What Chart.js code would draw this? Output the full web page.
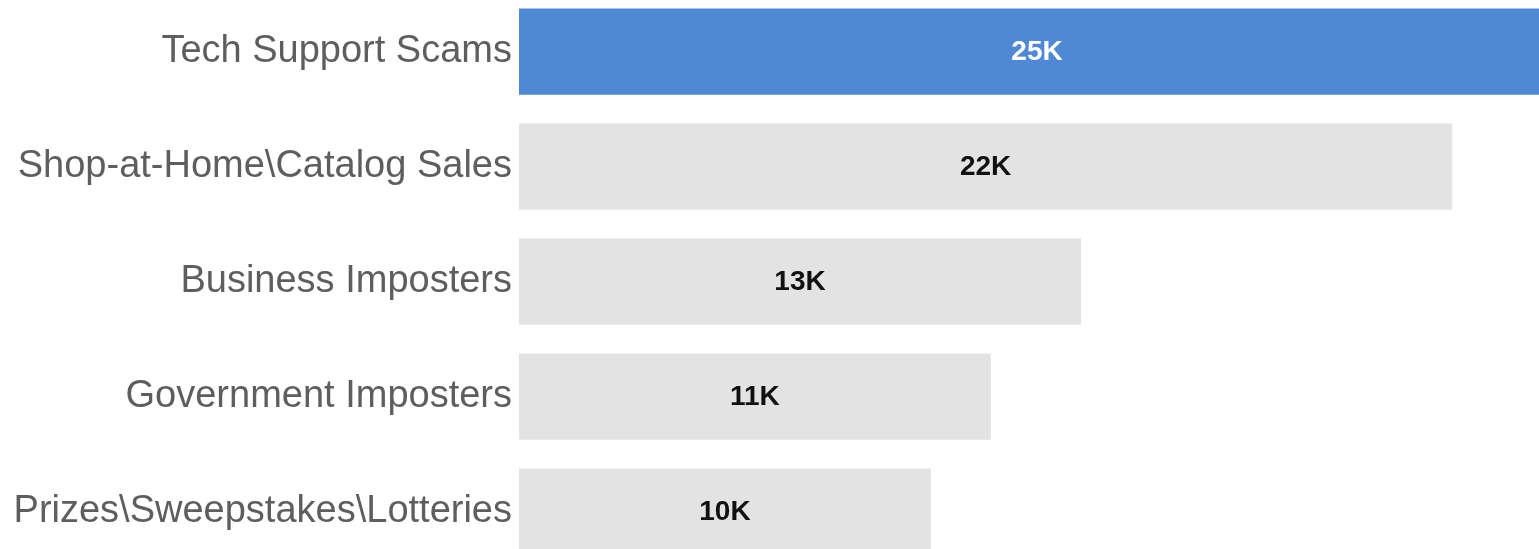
<!DOCTYPE html>
<html>
<head>
<meta charset="utf-8">
<script src="https://cdn.jsdelivr.net/npm/chart.js@4"></script>
<style>
  html, body { margin: 0; padding: 0; background: #ffffff; overflow: hidden; width: 1539px; height: 549px; }
  #wrap { position: absolute; left: 0; top: -6.5px; width: 1555px; height: 575px; }
</style>
</head>
<body>
<div id="wrap"><canvas id="c"></canvas></div>
<script>
const categories = [
  'Tech Support Scams',
  'Shop-at-Home\\Catalog Sales',
  'Business Imposters',
  'Government Imposters',
  'Prizes\\Sweepstakes\\Lotteries'
];
const complaintsK = [24.7, 22.25, 13.4, 11.25, 9.82];
const barColors = ['#4f88d4', '#e3e3e3', '#e3e3e3', '#e3e3e3', '#e3e3e3'];
const labelColors = ['#ffffff', '#111111', '#111111', '#111111', '#111111'];

const valueLabels = {
  id: 'valueLabels',
  afterDatasetsDraw(chart) {
    const ctx = chart.ctx;
    const meta = chart.getDatasetMeta(0);
    ctx.save();
    ctx.font = 'bold 28px "Liberation Sans", Arial, sans-serif';
    ctx.textAlign = 'center';
    ctx.textBaseline = 'middle';
    meta.data.forEach((bar, i) => {
      const v = chart.data.datasets[0].data[i];
      const cx = (bar.base + bar.x) / 2;
      ctx.fillStyle = labelColors[i];
      ctx.fillText(Math.round(v) + 'K', cx, bar.y + 1);
    });
    ctx.restore();
  }
};

new Chart(document.getElementById('c'), {
  type: 'bar',
  data: {
    labels: categories,
    datasets: [{
      data: complaintsK,
      backgroundColor: barColors,
      borderWidth: 0,
      categoryPercentage: 1.0,
      barPercentage: 0.75
    }]
  },
  options: {
    indexAxis: 'y',
    responsive: true,
    maintainAspectRatio: false,
    animation: false,
    layout: { padding: 0 },
    plugins: { legend: { display: false }, tooltip: { enabled: false } },
    scales: {
      x: {
        display: false,
        min: 0,
        max: complaintsK[0]
      },
      y: {
        grid: { display: false, drawTicks: false },
        border: { display: false },
        afterFit(scale) {
          scale.width = 519;
          scale.paddingTop = 0;
          scale.paddingBottom = 0;
        },
        ticks: {
          color: '#5e5e5e',
          padding: 7,
          font: { family: '"Liberation Sans", Arial, sans-serif', size: 38 }
        }
      }
    }
  },
  plugins: [valueLabels]
});
</script>
</body>
</html>
